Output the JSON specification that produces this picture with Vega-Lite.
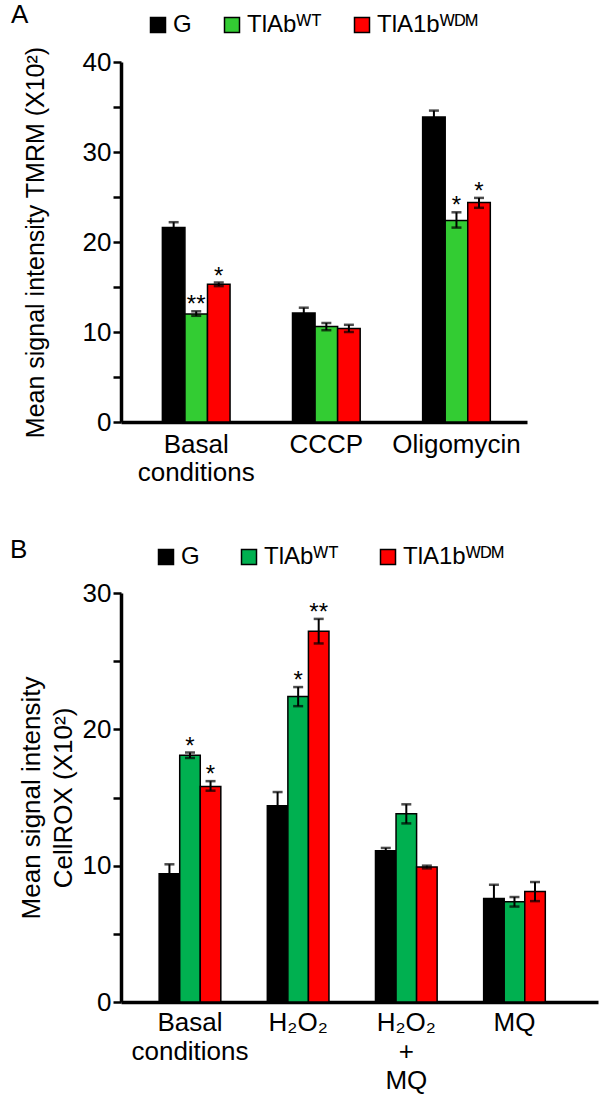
{
  "$schema": "https://vega.github.io/schema/vega-lite/v6.json",
  "background": "white",
  "padding": {"left": 10, "top": 2, "right": 3, "bottom": 3},
  "config": {
    "font": "Liberation Sans",
    "view": {"stroke": null},
    "axis": {"domainColor": "black", "tickColor": "black", "labelColor": "black", "titleColor": "black", "grid": false, "labelFont": "Liberation Sans", "titleFont": "Liberation Sans", "titleFontWeight": "normal"},
    "legend": {"labelFont": "Liberation Sans", "labelFontSize": 24, "labelColor": "black", "symbolType": "square", "symbolSize": 225, "columnPadding": 30, "labelOffset": 3, "title": null},
    "title": {"font": "Liberation Sans", "fontSize": 26, "fontWeight": "normal", "color": "black", "anchor": "start", "frame": "bounds"}
  },
  "datasets": {
    "a": [
      {"cond": "Basal|conditions", "group": "G", "mean": 21.6, "lo": 21.0, "hi": 22.2, "sig": ""},
      {"cond": "Basal|conditions", "group": "TlAbᵂᵀ", "mean": 12.0, "lo": 11.8, "hi": 12.3, "sig": "**"},
      {"cond": "Basal|conditions", "group": "TlA1bᵂᴰᴹ", "mean": 15.3, "lo": 15.1, "hi": 15.5, "sig": "*"},
      {"cond": "CCCP", "group": "G", "mean": 12.1, "lo": 11.5, "hi": 12.7, "sig": ""},
      {"cond": "CCCP", "group": "TlAbᵂᵀ", "mean": 10.6, "lo": 10.2, "hi": 11.0, "sig": ""},
      {"cond": "CCCP", "group": "TlA1bᵂᴰᴹ", "mean": 10.4, "lo": 10.0, "hi": 10.8, "sig": ""},
      {"cond": "Oligomycin", "group": "G", "mean": 33.9, "lo": 33.2, "hi": 34.6, "sig": ""},
      {"cond": "Oligomycin", "group": "TlAbᵂᵀ", "mean": 22.4, "lo": 21.6, "hi": 23.3, "sig": "*"},
      {"cond": "Oligomycin", "group": "TlA1bᵂᴰᴹ", "mean": 24.4, "lo": 23.8, "hi": 24.9, "sig": "*"}
    ],
    "b": [
      {"cond": "Basal|conditions", "group": "G", "mean": 9.4, "lo": 8.7, "hi": 10.1, "sig": ""},
      {"cond": "Basal|conditions", "group": "TlAbᵂᵀ", "mean": 18.1, "lo": 17.9, "hi": 18.3, "sig": "*"},
      {"cond": "Basal|conditions", "group": "TlA1bᵂᴰᴹ", "mean": 15.8, "lo": 15.5, "hi": 16.2, "sig": "*"},
      {"cond": "H₂O₂", "group": "G", "mean": 14.4, "lo": 13.4, "hi": 15.4, "sig": ""},
      {"cond": "H₂O₂", "group": "TlAbᵂᵀ", "mean": 22.4, "lo": 21.7, "hi": 23.1, "sig": "*"},
      {"cond": "H₂O₂", "group": "TlA1bᵂᴰᴹ", "mean": 27.2, "lo": 26.3, "hi": 28.1, "sig": "**"},
      {"cond": "H₂O₂|+|MQ", "group": "G", "mean": 11.1, "lo": 10.9, "hi": 11.3, "sig": ""},
      {"cond": "H₂O₂|+|MQ", "group": "TlAbᵂᵀ", "mean": 13.8, "lo": 13.1, "hi": 14.5, "sig": ""},
      {"cond": "H₂O₂|+|MQ", "group": "TlA1bᵂᴰᴹ", "mean": 9.9, "lo": 9.8, "hi": 10.0, "sig": ""},
      {"cond": "MQ", "group": "G", "mean": 7.6, "lo": 6.6, "hi": 8.6, "sig": ""},
      {"cond": "MQ", "group": "TlAbᵂᵀ", "mean": 7.35, "lo": 7.0, "hi": 7.7, "sig": ""},
      {"cond": "MQ", "group": "TlA1bᵂᴰᴹ", "mean": 8.1, "lo": 7.4, "hi": 8.8, "sig": ""}
    ]
  },
  "spacing": 52,
  "resolve": {"scale": {"color": "independent", "x": "independent", "y": "independent", "xOffset": "independent"}, "legend": {"color": "independent"}},
  "vconcat": [
    {
      "data": {"name": "a"},
      "title": {"text": "A", "dy": 19, "dx": -12},
      "width": 406,
      "height": 360,
      "encoding": {
        "x": {"field": "cond", "type": "nominal", "sort": null, "scale": {"paddingInner": 0.48, "paddingOuter": 0.3, "align": 0.53},
          "axis": {"title": null, "labelAngle": 0, "ticks": false, "domainWidth": 3.5, "labelFontSize": 26, "labelExpr": "split(datum.label, '|')", "labelLineHeight": 28, "labelPadding": 9, "labelBaseline": "top"}},
        "xOffset": {"field": "group", "type": "nominal", "sort": null, "scale": {"paddingInner": 0, "paddingOuter": 0}}
      },
      "layer": [
        {
          "mark": {"type": "bar", "stroke": "black", "strokeWidth": 1.5},
          "encoding": {
            "y": {"field": "mean", "type": "quantitative", "title": "Mean signal intensity  TMRM (X10²)", "scale": {"domain": [0, 40], "nice": false},
              "axis": {"values": [0, 5, 10, 15, 20, 25, 30, 35, 40], "labelExpr": "datum.value % 10 == 0 ? datum.label : ''", "titleFontSize": 25, "labelFontSize": 26, "tickSize": 8, "tickWidth": 2.5, "domainWidth": 3.5, "labelPadding": 2, "titlePadding": 34}},
            "color": {"field": "group", "type": "nominal", "sort": null,
              "scale": {"domain": ["G", "TlAbᵂᵀ", "TlA1bᵂᴰᴹ"], "range": ["#000000", "#33cc33", "#ff0000"]},
              "legend": {"orient": "none", "direction": "horizontal", "legendX": 25, "legendY": -49, "columnPadding": 28,
                "encode": {"symbols": {"update": {"fill": {"signal": "datum.value === 'G' ? '#000000' : datum.value === 'TlAbᵂᵀ' ? '#92d050' : '#ff0000'"}, "stroke": {"value": "black"}, "strokeWidth": {"value": 1.5}, "opacity": {"value": 1}}}}}}
          }
        },
        {
          "mark": {"type": "rule", "strokeWidth": 2, "color": "black"},
          "encoding": {"y": {"field": "lo", "type": "quantitative", "title": "Mean signal intensity  TMRM (X10²)"}, "y2": {"field": "hi"}}
        },
        {
          "mark": {"type": "tick", "thickness": 2.5, "size": 10, "color": "black"},
          "encoding": {"y": {"field": "hi", "type": "quantitative", "title": "Mean signal intensity  TMRM (X10²)"}}
        },
        {
          "mark": {"type": "tick", "thickness": 2.5, "size": 10, "color": "black"},
          "encoding": {"y": {"field": "lo", "type": "quantitative", "title": "Mean signal intensity  TMRM (X10²)"}}
        },
        {
          "mark": {"type": "text", "fontSize": 24, "baseline": "alphabetic", "dy": 1, "color": "black"},
          "encoding": {"y": {"field": "hi", "type": "quantitative", "title": "Mean signal intensity  TMRM (X10²)"}, "text": {"field": "sig"}}
        }
      ]
    },
    {
      "data": {"name": "b"},
      "title": {"text": "B", "dy": 22, "dx": -8},
      "width": 477,
      "height": 409,
      "encoding": {
        "x": {"field": "cond", "type": "nominal", "sort": null, "scale": {"paddingInner": 0.43, "paddingOuter": 0.42, "align": 0.42},
          "axis": {"title": null, "labelAngle": 0, "ticks": false, "domainWidth": 3.5, "labelFontSize": 26, "labelExpr": "split(datum.label, '|')", "labelLineHeight": 29, "labelPadding": 7, "labelBaseline": "top"}},
        "xOffset": {"field": "group", "type": "nominal", "sort": null, "scale": {"paddingInner": 0, "paddingOuter": 0}}
      },
      "layer": [
        {
          "mark": {"type": "bar", "stroke": "black", "strokeWidth": 1.5},
          "encoding": {
            "y": {"field": "mean", "type": "quantitative", "title": ["Mean signal intensity", "CellROX (X10²)"], "scale": {"domain": [0, 30], "nice": false},
              "axis": {"values": [0, 5, 10, 15, 20, 25, 30], "labelExpr": "datum.value % 10 == 0 ? datum.label : ''", "titleFontSize": 26, "titleLineHeight": 32, "labelFontSize": 26, "tickSize": 8, "tickWidth": 2.5, "domainWidth": 3.5, "labelPadding": 2, "titlePadding": 6}},
            "color": {"field": "group", "type": "nominal", "sort": null,
              "scale": {"domain": ["G", "TlAbᵂᵀ", "TlA1bᵂᴰᴹ"], "range": ["#000000", "#00b050", "#ff0000"]},
              "legend": {"orient": "none", "direction": "horizontal", "legendX": 33, "legendY": -48, "columnPadding": 37,
                "encode": {"symbols": {"update": {"fill": {"signal": "datum.value === 'G' ? '#000000' : datum.value === 'TlAbᵂᵀ' ? '#92d050' : '#ff0000'"}, "stroke": {"value": "black"}, "strokeWidth": {"value": 1.5}, "opacity": {"value": 1}}}}}}
          }
        },
        {
          "mark": {"type": "rule", "strokeWidth": 2, "color": "black"},
          "encoding": {"y": {"field": "lo", "type": "quantitative", "title": ["Mean signal intensity", "CellROX (X10²)"]}, "y2": {"field": "hi"}}
        },
        {
          "mark": {"type": "tick", "thickness": 2.5, "size": 10, "color": "black"},
          "encoding": {"y": {"field": "hi", "type": "quantitative", "title": ["Mean signal intensity", "CellROX (X10²)"]}}
        },
        {
          "mark": {"type": "tick", "thickness": 2.5, "size": 10, "color": "black"},
          "encoding": {"y": {"field": "lo", "type": "quantitative", "title": ["Mean signal intensity", "CellROX (X10²)"]}}
        },
        {
          "mark": {"type": "text", "fontSize": 24, "baseline": "alphabetic", "dy": 1, "color": "black"},
          "encoding": {"y": {"field": "hi", "type": "quantitative", "title": ["Mean signal intensity", "CellROX (X10²)"]}, "text": {"field": "sig"}}
        }
      ]
    }
  ]
}
